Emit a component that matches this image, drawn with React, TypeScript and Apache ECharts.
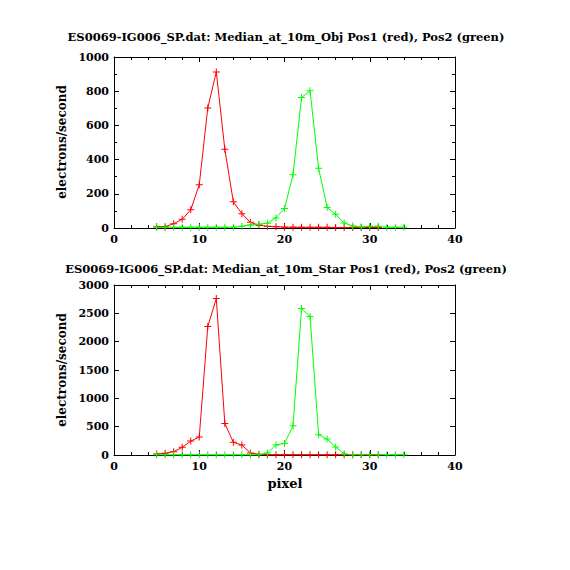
import React, { useEffect, useRef } from "react";
import * as echarts from "echarts";

const titleTop = "ES0069-IG006_SP.dat: Median_at_10m_Obj Pos1 (red), Pos2 (green)";
const titleBottom = "ES0069-IG006_SP.dat: Median_at_10m_Star Pos1 (red), Pos2 (green)";
const yName = "electrons/second";
const xName = "pixel";

const redPixels = [5, 6, 7, 8, 9, 10, 11, 12, 13, 14, 15, 16, 17, 18, 19, 20, 21, 22, 23, 24, 25, 26, 27, 28, 29, 30, 31];
const greenPixels = [5, 6, 7, 8, 9, 10, 11, 12, 13, 14, 15, 16, 17, 18, 19, 20, 21, 22, 23, 24, 25, 26, 27, 28, 29, 30, 31, 32, 33, 34];

const objRed = [8, 8, 25, 51, 106, 253, 702, 913, 460, 153, 84, 33, 16, 10, 8, 5, 5, 4, 4, 4, 4, 3, 3, 3, 3, 3, 3];
const objGreen = [4, 4, 4, 4, 4, 4, 4, 4, 4, 4, 10, 18, 22, 28, 59, 114, 312, 763, 802, 349, 120, 80, 29, 12, 6, 10, 10, 4, 4, 4];

const starRed = [18, 29, 59, 135, 246, 316, 2268, 2760, 557, 223, 176, 35, 12, 6, 6, 5, 5, 4, 4, 4, 4, 4, 4, 4, 4, 4, 4];
const starGreen = [3, 3, 3, 3, 3, 3, 3, 3, 3, 3, 3, 3, 3, 35, 176, 205, 516, 2585, 2444, 357, 281, 141, 18, 5, 5, 5, 5, 5, 5, 5];

const xMin = 0, xMax = 40, xStep = 10;
const objMax = 1000, objStep = 200;
const starMax = 3000, starStep = 500;

const FONT = "'DejaVu Serif', serif";
const plus = "path://M3,0h1v3h3v1h-3v3h-1v-3h-3v-1h3z";

function zip(xs: number[], ys: number[]) {
  return xs.map((x, i) => [x, ys[i]]);
}

export default function App() {
  const ref = useRef<HTMLDivElement>(null);
  useEffect(() => {
    if (!ref.current) return;
    const chart = echarts.init(ref.current, undefined, { renderer: "svg" });
    const lineStyle = { color: "#000", width: 1 };
    const label = {
      color: "#000",
      fontFamily: FONT,
      fontSize: 11,
      fontWeight: "bold",
      formatter: (v: number) => String(v),
    };
    const xAx = (grid: number, pos: "bottom" | "top") => ({
      type: "value",
      gridIndex: grid,
      position: pos,
      min: xMin,
      max: xMax,
      interval: xStep,
      axisLine: { show: true, onZero: false, lineStyle },
      axisTick: { show: true, inside: true, length: 5, lineStyle },
      minorTick: { show: true, splitNumber: 5, length: 3, lineStyle },
      axisLabel: pos === "bottom" ? { ...label, margin: 6 } : { show: false },
      splitLine: { show: false },
    });
    const yAx = (grid: number, pos: "left" | "right", max: number, step: number, minor: boolean) => ({
      type: "value",
      gridIndex: grid,
      position: pos,
      min: 0,
      max,
      interval: step,
      axisLine: { show: true, onZero: false, lineStyle },
      axisTick: { show: true, inside: true, length: 5, lineStyle },
      minorTick: { show: minor, splitNumber: 2, length: 3, lineStyle },
      axisLabel: pos === "left" ? { ...label, margin: 5 } : { show: false },
      splitLine: { show: false },
    });
    const ser = (data: number[][], color: string, xi: number, yi: number) => ({
      type: "line",
      data,
      xAxisIndex: xi,
      yAxisIndex: yi,
      symbol: plus,
      symbolSize: 7,
      showSymbol: true,
      itemStyle: { color },
      lineStyle: { color, width: 1 },
      emphasis: { disabled: true },
      clip: true,
    });
    const txt = (text: string, x: number, y: number, size: number, rotation = 0) => ({
      type: "text",
      x,
      y,
      rotation,
      style: {
        text,
        fill: "#000",
        font: `bold ${size}px ${FONT}`,
        textAlign: "center",
        textVerticalAlign: "middle",
      },
    });
    chart.setOption({
      animation: false,
      backgroundColor: "#fff",
      grid: [
        { left: 114, top: 57, width: 341, height: 171 },
        { left: 114, top: 285, width: 341, height: 170 },
      ],
      xAxis: [xAx(0, "bottom"), xAx(0, "top"), xAx(1, "bottom"), xAx(1, "top")],
      yAxis: [
        yAx(0, "left", objMax, objStep, true),
        yAx(0, "right", objMax, objStep, true),
        yAx(1, "left", starMax, starStep, false),
        yAx(1, "right", starMax, starStep, false),
      ],
      series: [
        ser(zip(redPixels, objRed), "#ff0000", 0, 0),
        ser(zip(greenPixels, objGreen), "#00ff00", 0, 0),
        ser(zip(redPixels, starRed), "#ff0000", 2, 2),
        ser(zip(greenPixels, starGreen), "#00ff00", 2, 2),
      ],
      graphic: [
        txt(titleTop, 286, 37, 11.5),
        txt(titleBottom, 286, 269, 11.5),
        txt(yName, 62, 142, 12, Math.PI / 2),
        txt(yName, 62, 370, 12, Math.PI / 2),
        txt(xName, 285, 483, 13),
      ],
    });
    return () => chart.dispose();
  }, []);
  return (
    <div
      ref={ref}
      style={{ position: "fixed", left: 0, top: 0, width: 570, height: 570, background: "#fff" }}
    />
  );
}
